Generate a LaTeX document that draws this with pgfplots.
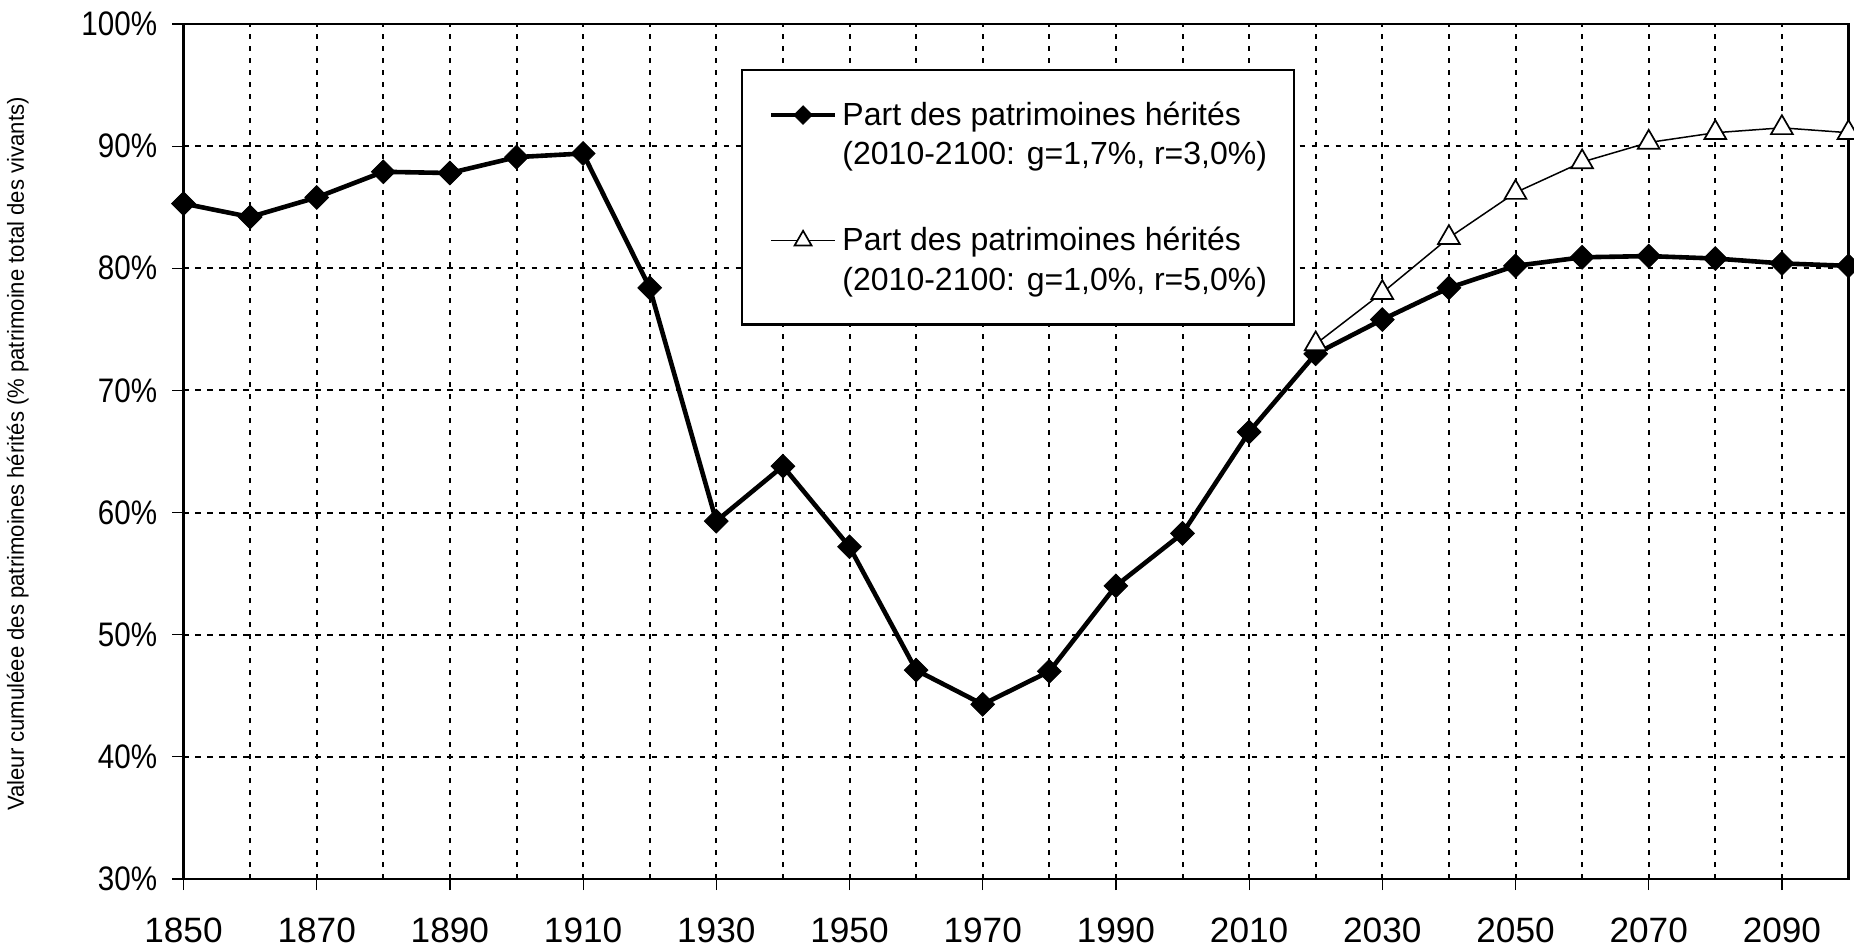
\documentclass[border=0pt]{standalone}
\usepackage{pgfplots}
\pgfplotsset{compat=1.18}
\usepackage{fontspec}
\setmainfont{Liberation Sans}
\newcommand\yl[1]{\scalebox{0.87}[1]{#1}}

\pgfplotstableread{
year share
1850 85.3
1860 84.2
1870 85.8
1880 87.9
1890 87.8
1900 89.1
1910 89.4
1920 78.4
1930 59.3
1940 63.8
1950 57.2
1960 47.1
1970 44.3
1980 47.0
1990 54.0
2000 58.3
2010 66.6
2020 73.0
2030 75.8
2040 78.4
2050 80.2
2060 80.9
2070 81.0
2080 80.8
2090 80.4
2100 80.2
}\seriesA

\pgfplotstableread{
year share
2020 73.8
2030 78.0
2040 82.5
2050 86.2
2060 88.7
2070 90.3
2080 91.1
2090 91.5
2100 91.1
}\seriesB

\begin{document}
\begin{tikzpicture}
\begin{axis}[
  at={(0,0)}, anchor=south west,
  scale only axis, width=832.5bp, height=427.5bp,
  xmin=1850, xmax=2100, ymin=30, ymax=100,
  axis line style={line width=1.1bp},
  xtick={1850,1870,...,2090},
  xticklabels={1850,1870,1890,1910,1930,1950,1970,1990,2010,2030,2050,2070,2090},
  minor xtick={1860,1880,...,2100},
  ytick={30,40,...,100},
  yticklabels={\yl{30\%},\yl{40\%},\yl{50\%},\yl{60\%},\yl{70\%},\yl{80\%},\yl{90\%},\yl{100\%}},
  tick align=outside, tick pos=left,
  major tick length=5.5bp, minor tick length=0pt,
  every tick/.style={black, line width=0.6bp},
  xmajorgrids, xminorgrids, ymajorgrids,
  major grid style={black, line width=1bp, dash pattern=on 2.6bp off 3.4bp},
  minor grid style={black, line width=1bp, dash pattern=on 2.6bp off 3.4bp},
  xticklabel style={font=\fontsize{17.6bp}{21bp}\selectfont, inner sep=0pt, anchor=north, yshift=-14bp},
  yticklabel style={font=\fontsize{17bp}{20bp}\selectfont, inner sep=0pt, anchor=east, xshift=-7.5bp},
  every axis y label/.style={at={(axis description cs:-0.0959,0.497)}, rotate=90, anchor=base,
    font=\fontsize{11.6bp}{13bp}\selectfont, inner sep=0pt},
  ylabel={\scalebox{0.953}[1]{Valeur cumuléee des patrimoines hérités (\% patrimoine total des vivants)}},
  legend cell align=left,
  legend style={at={(0.33483,0.9474)}, anchor=north west, draw=black, line width=1.2bp,
    inner xsep=13.5bp, inner ysep=15.8bp,
    font=\fontsize{16bp}{19.6bp}\selectfont,
    nodes={inner sep=0pt, align=left},
    row sep=29.9bp, column sep=2.75bp},
  legend image code/.code={
    \draw[mark repeat=2, mark phase=2, #1, yshift=9.8bp, /tikz/every mark/.append style={scale=0.78}]
      plot coordinates {(0bp,0bp) (15.8bp,0bp) (31.6bp,0bp)};},
  clip=false,
]
\addplot[black, line width=2.3bp, mark=square*, mark size=4.2bp,
  mark options={rotate=45, solid, fill=black, line width=0.4bp}]
  table[x=year, y=share] {\seriesA};
\addlegendentry{Part des patrimoines hérités\\(2010-2100: g=1,7\%, r=3,0\%)}
\addplot[black, line width=0.75bp, mark=triangle*, mark size=6.3bp,
  mark options={solid, fill=white, draw=black, line width=0.85bp}]
  table[x=year, y=share] {\seriesB};
\addlegendentry{Part des patrimoines hérités\\(2010-2100: g=1,0\%, r=5,0\%)}
\end{axis}
\pgfresetboundingbox
\useasboundingbox (-91.75bp,-36.5bp) rectangle (835.25bp,439.5bp);
\end{tikzpicture}
\end{document}
